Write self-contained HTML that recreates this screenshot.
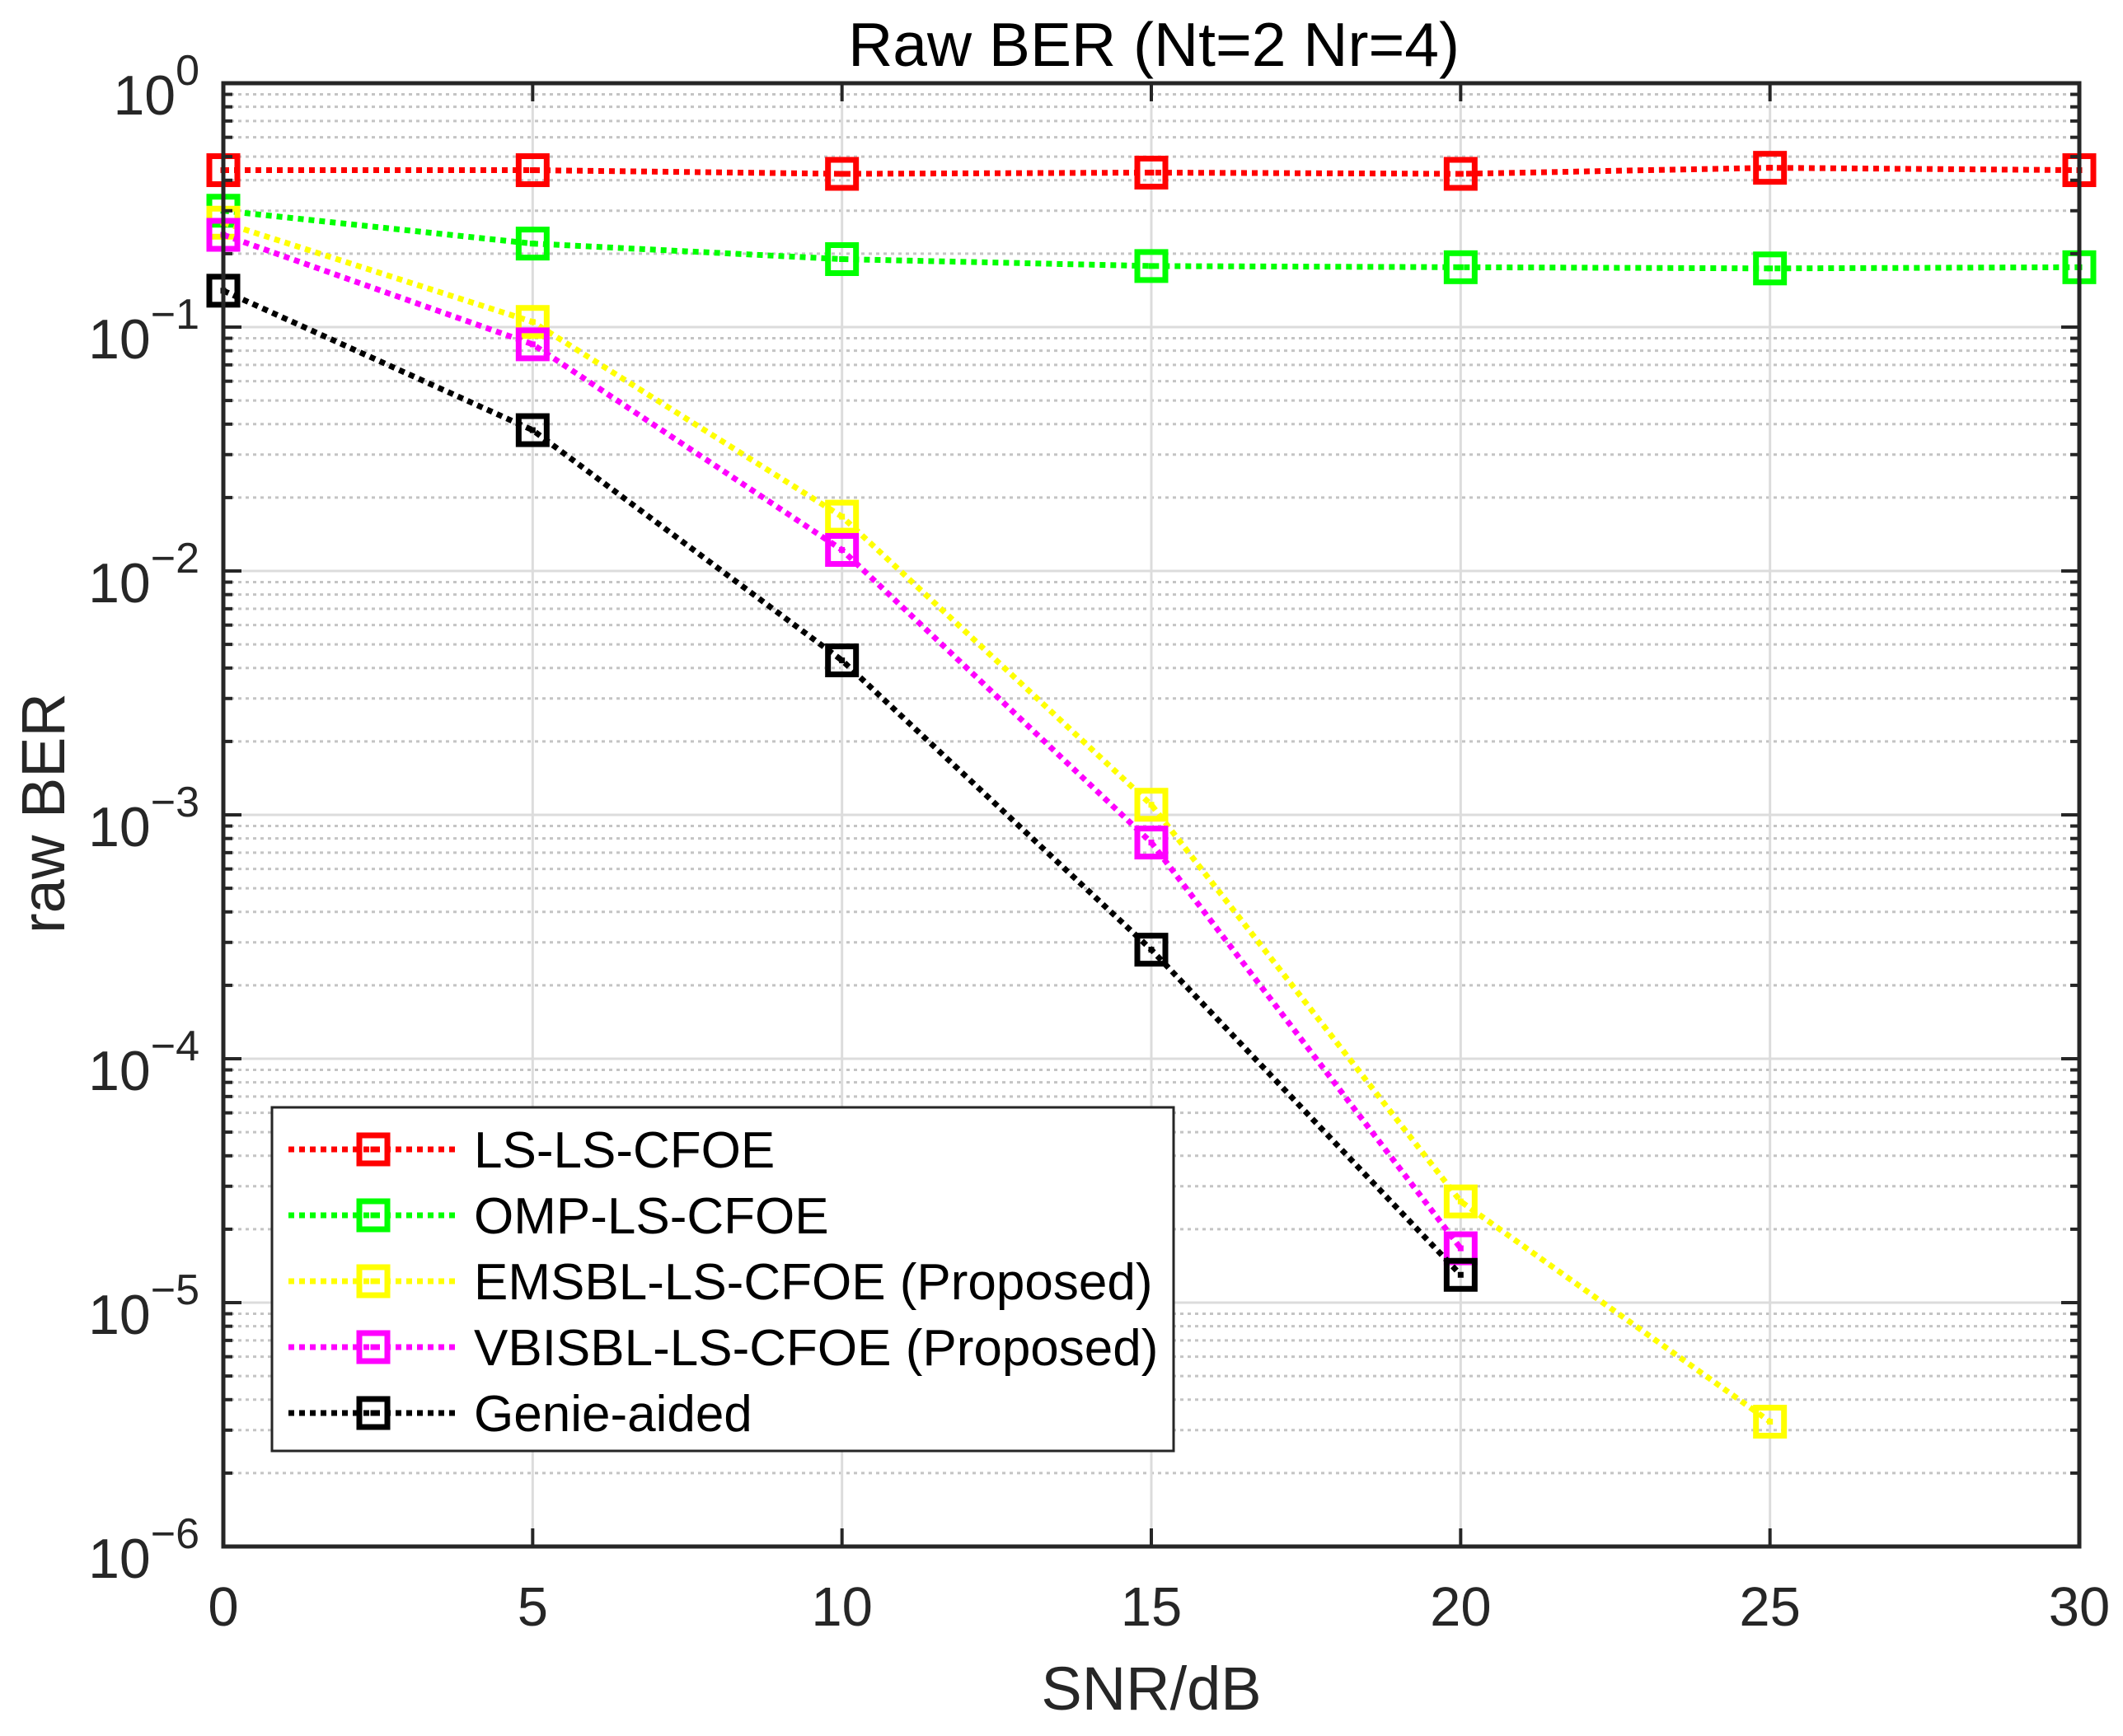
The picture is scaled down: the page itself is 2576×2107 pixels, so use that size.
<!DOCTYPE html>
<html><head><meta charset="utf-8"><style>
html,body{margin:0;padding:0;background:#fff;}
svg{display:block;font-family:"Liberation Sans",Arial,sans-serif;}
</style></head><body>
<svg id="chart" width="2576" height="2107" viewBox="0 0 2576 2107" xmlns="http://www.w3.org/2000/svg">
<rect width="2576" height="2107" fill="#fff"/>
<g id="grid"></g>
<g id="series"></g>
<g id="axes"></g>
<text x="1400" y="80" font-size="75" text-anchor="middle" fill="#000">Raw BER (Nt=2 Nr=4)</text>
<text x="1397" y="2075" font-size="74" text-anchor="middle" fill="#262626">SNR/dB</text>
<text transform="translate(78,987) rotate(-90)" font-size="74" text-anchor="middle" fill="#262626">raw BER</text>
<g id="legend"></g>
</svg>
<script>
const snr = [0, 5, 10, 15, 20, 25, 30];
const xTicks = [0, 5, 10, 15, 20, 25, 30];
const yDecades = [0, -1, -2, -3, -4, -5, -6];
const seriesNames = ["LS-LS-CFOE", "OMP-LS-CFOE", "EMSBL-LS-CFOE (Proposed)", "VBISBL-LS-CFOE (Proposed)", "Genie-aided"];
const seriesColors = ["#ff0000", "#00ff00", "#ffff00", "#ff00ff", "#000000"];
const lsVals = [0.44, 0.44, 0.425, 0.43, 0.425, 0.45, 0.44];
const ompVals = [0.30, 0.22, 0.19, 0.178, 0.176, 0.174, 0.176];
const emsblVals = [0.268, 0.105, 0.0167, 0.0011, 2.6e-5, 3.25e-6];
const vbiVals = [0.239, 0.085, 0.0122, 7.7e-4, 1.67e-5];
const genieVals = [0.141, 0.0378, 0.0043, 2.8e-4, 1.3e-5];
const allVals = [lsVals, ompVals, emsblVals, vbiVals, genieVals];

const NS = "http://www.w3.org/2000/svg";
const L = 271, R = 2523, T = 101, B = 1877;
const xMin = 0, xMax = 30, yMinExp = -6, yMaxExp = 0;
function xs(v){ return L + (v - xMin) / (xMax - xMin) * (R - L); }
function ys(v){ return T + (yMaxExp - Math.log10(v)) / (yMaxExp - yMinExp) * (B - T); }
function mk(tag, attrs, parent){ const e = document.createElementNS(NS, tag); for (const k in attrs) e.setAttribute(k, attrs[k]); parent.appendChild(e); return e; }

const grid = document.getElementById("grid");
const axes = document.getElementById("axes");
for (let d = yMinExp; d < yMaxExp; d++) {
  for (let m = 2; m <= 9; m++) {
    const y = ys(m * Math.pow(10, d));
    const g = mk("line", {x1: L, x2: R, y1: y, y2: y, stroke: "#c4c4c4", "stroke-width": 3, "stroke-dasharray": "4 5"}, grid);
    
    
    const t1 = mk("line", {x1: L, x2: L + 11, y1: y, y2: y, stroke: "#262626", "stroke-width": 4}, axes);
    
    
    const t2 = mk("line", {x1: R, x2: R - 11, y1: y, y2: y, stroke: "#262626", "stroke-width": 4}, axes);
    
    
  }
}
yDecades.forEach(d => {
  const y = ys(Math.pow(10, d));
  const g = mk("line", {x1: L, x2: R, y1: y, y2: y, stroke: "#dcdcdc", "stroke-width": 3}, grid);
  
  
  const t1 = mk("line", {x1: L, x2: L + 22, y1: y, y2: y, stroke: "#262626", "stroke-width": 4}, axes);
  
  
  const t2 = mk("line", {x1: R, x2: R - 22, y1: y, y2: y, stroke: "#262626", "stroke-width": 4}, axes);
  
  
  const lbl = mk("text", {x: 242, y: y + 38, "font-size": 68, "text-anchor": "end", fill: "#262626"}, axes);
  
  
  const base = mk("tspan", {}, lbl);
  base.textContent = "10";
  const ex = mk("tspan", {dy: -36, "font-size": 52}, lbl);
  ex.textContent = d === 0 ? "0" : "\u2212" + (-d);
});
xTicks.forEach(v => {
  const x = xs(v);
  const g = mk("line", {x1: x, x2: x, y1: T, y2: B, stroke: "#dcdcdc", "stroke-width": 3}, grid);
  
  
  const t1 = mk("line", {x1: x, x2: x, y1: B, y2: B - 22, stroke: "#262626", "stroke-width": 4}, axes);
  
  
  const t2 = mk("line", {x1: x, x2: x, y1: T, y2: T + 22, stroke: "#262626", "stroke-width": 4}, axes);
  
  
  const lbl = mk("text", {x: x, y: 1973, "font-size": 67, "text-anchor": "middle", fill: "#262626"}, axes);
  lbl.textContent = String(v);
  
  
});
const frame = mk("rect", {x: L, y: T, width: R - L, height: B - T, fill: "none", stroke: "#262626", "stroke-width": 5}, axes);



const sg = document.getElementById("series");
function marker(parent, cx, cy, color, name){
  const r = mk("rect", {x: cx - 17, y: cy - 17, width: 34, height: 34, fill: "none", stroke: color, "stroke-width": 7}, parent);
  
  
  const d = mk("rect", {x: cx - 3.5, y: cy - 3.5, width: 7, height: 7, fill: color}, parent);
  
  
}
allVals.forEach((vals, si) => {
  const g = mk("g", {}, sg);
  
  
  const pts = vals.map((v, i) => xs(snr[i]) + "," + ys(v)).join(" ");
  const pl = mk("polyline", {points: pts, fill: "none", stroke: seriesColors[si], "stroke-width": 7, "stroke-dasharray": "7 6"}, g);
  
  
  vals.forEach((v, i) => marker(g, xs(snr[i]), ys(v), seriesColors[si], 'data-marker'));
});

const lg = document.getElementById("legend");
const box = mk("rect", {x: 330, y: 1344, width: 1094, height: 417, fill: "#fff", stroke: "#262626", "stroke-width": 3}, lg);


seriesNames.forEach((n, i) => {
  const y = 1395 + i * 80;
  const e = mk("g", {}, lg);
  
  
  const ln = mk("line", {x1: 350, x2: 558, y1: y, y2: y, stroke: seriesColors[i], "stroke-width": 7, "stroke-dasharray": "7 6"}, e);
  
  
  marker(e, 453, y, seriesColors[i], 'legend-marker');
  const t = mk("text", {x: 575, y: y + 22, "font-size": 62, fill: "#000"}, e);
  t.textContent = n;
  
  
});
</script>
</body></html>
